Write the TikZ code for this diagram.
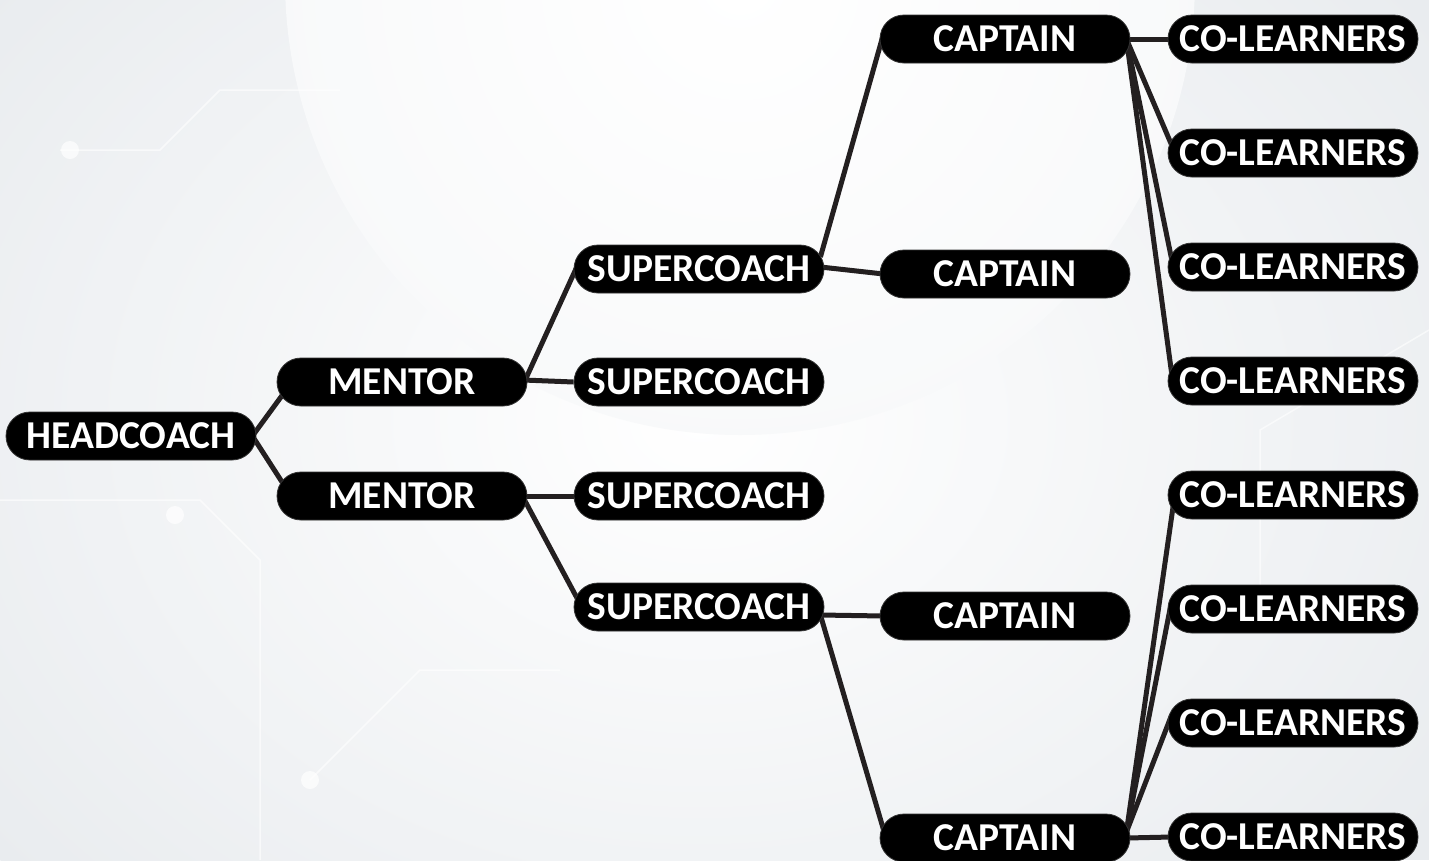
\documentclass[tikz,border=0pt]{standalone}
\usepackage{fontspec}
\setmainfont{Carlito}
\definecolor{bgc}{HTML}{E9ECEF}
\definecolor{edgec}{HTML}{231F20}
\pgfdeclarelayer{back}
\pgfdeclarelayer{edges}
\pgfsetlayers{back,edges,main}
\tikzset{
  pill/.style={rectangle, rounded corners=24pt, fill=black, draw=black!80, line width=0.8pt,
    minimum width=250pt, minimum height=48pt, inner sep=0pt, text=white,
    font=\fontsize{39.5}{44}\selectfont\bfseries},
  link/.style={draw=edgec, line width=5pt}
}
\begin{document}
\begin{tikzpicture}[x=1pt,y=-1pt]
\useasboundingbox (0,0) rectangle (1429,860);
% background
\begin{pgfonlayer}{back}
\fill[bgc] (0,0) rectangle (1429,860);
\shade[inner color=white, outer color=bgc] (700,420) ellipse (900 and 700);
\begin{scope}
\clip (0,0) rectangle (1429,860);
\shade[inner color=white, outer color=white!70!bgc] (740,-20) circle (455);
\draw[white, line width=1.5pt, opacity=0.6] (0,500) -- (200,500) -- (260,560) -- (260,860);
\draw[white, line width=1.5pt, opacity=0.6] (60,150) -- (160,150) -- (220,90) -- (340,90);
\draw[white, line width=1.5pt, opacity=0.6] (310,780) -- (420,670) -- (560,670);
\fill[white, opacity=0.7] (310,780) circle (9);
\fill[white, opacity=0.7] (70,150) circle (9);
\fill[white, opacity=0.7] (175,515) circle (9);
\draw[white, line width=1.5pt, opacity=0.6] (1429,330) -- (1260,430) -- (1260,600);
\end{scope}
\end{pgfonlayer}
% nodes
\node[pill] (hc) at (131,436) {HEADCOACH};
\node[pill] (m1) at (402,382) {MENTOR};
\node[pill] (m2) at (402,496) {MENTOR};
\node[pill] (s1) at (699,269) {SUPERCOACH};
\node[pill] (s2) at (699,382) {SUPERCOACH};
\node[pill] (s3) at (699,496) {SUPERCOACH};
\node[pill] (s4) at (699,607) {SUPERCOACH};
\node[pill] (c1) at (1005,39) {CAPTAIN};
\node[pill] (c2) at (1005,274) {CAPTAIN};
\node[pill] (c3) at (1005,616) {CAPTAIN};
\node[pill] (c4) at (1005,838) {CAPTAIN};
\node[pill] (l1) at (1293,39) {CO-LEARNERS};
\node[pill] (l2) at (1293,153) {CO-LEARNERS};
\node[pill] (l3) at (1293,267) {CO-LEARNERS};
\node[pill] (l4) at (1293,381) {CO-LEARNERS};
\node[pill] (l5) at (1293,495) {CO-LEARNERS};
\node[pill] (l6) at (1293,609) {CO-LEARNERS};
\node[pill] (l7) at (1293,723) {CO-LEARNERS};
\node[pill] (l8) at (1293,837) {CO-LEARNERS};
% connectors (behind nodes)
\begin{pgfonlayer}{edges}
\path[link] ([xshift=-4pt]hc.east) -- ([xshift=8pt,yshift=-10pt]m1.west);
\path[link] ([xshift=-4pt]hc.east) -- ([xshift=8pt,yshift=10pt]m2.west);
\path[link] ([xshift=-4pt,yshift=-2pt]m1.east) -- ([xshift=5pt,yshift=6pt]s1.west);
\path[link] ([xshift=-4pt,yshift=2pt]m1.east) -- (s2.west);
\path[link] ([xshift=-2pt]m2.east) -- (s3.west);
\path[link] ([xshift=-4pt,yshift=-2pt]m2.east) -- ([xshift=5pt,yshift=6pt]s4.west);
\path[link] ([xshift=-4pt,yshift=12pt]s1.east) -- ([xshift=3pt,yshift=2pt]c1.west);
\path[link] ([xshift=-4pt,yshift=2pt]s1.east) -- ([xshift=4pt]c2.west);
\path[link] ([xshift=-4pt,yshift=-8pt]s4.east) -- ([xshift=4pt]c3.west);
\path[link] ([xshift=-4pt,yshift=-8pt]s4.east) -- ([xshift=4pt,yshift=8pt]c4.west);
\path[link] ([xshift=-4pt]c1.east) -- ([xshift=4pt]l1.west);
\path[link] ([xshift=-4pt]c1.east) -- ([xshift=4pt,yshift=8pt]l2.west);
\path[link] ([xshift=-4pt]c1.east) -- ([xshift=4pt,yshift=8pt]l3.west);
\path[link] ([xshift=-4pt]c1.east) -- ([xshift=4pt,yshift=8pt]l4.west);
\path[link] ([xshift=-4pt,yshift=6pt]c4.east) -- ([xshift=6pt,yshift=-8pt]l5.west);
\path[link] ([xshift=-4pt,yshift=6pt]c4.east) -- ([xshift=4pt,yshift=8pt]l6.west);
\path[link] ([xshift=-4pt,yshift=6pt]c4.east) -- ([xshift=4pt,yshift=8pt]l7.west);
\path[link] ([xshift=-4pt]c4.east) -- ([xshift=4pt]l8.west);
\end{pgfonlayer}
\end{tikzpicture}
\end{document}
